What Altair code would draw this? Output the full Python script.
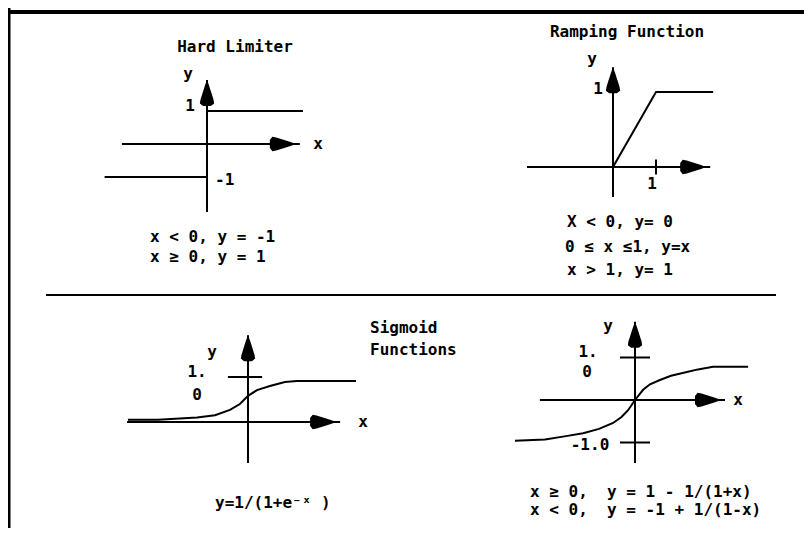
import altair as alt
import pandas as pd

# ---------------- data (function-space values) ----------------
hl_up_x = [0.0, 3.0]
hl_up_y = [1.0, 1.0]
hl_lo_x = [-3.2, 0.0]
hl_lo_y = [-1.0, -1.0]

ramp_x = [0.0, 1.0, 2.33]
ramp_y = [0.0, 1.0, 1.0]

sig_x = [-4.0, -3.0, -1.7, -1.1, -0.6, -0.27, 0.0, 0.3, 0.73, 1.23, 1.63, 3.6]
sig_y = [0.05, 0.05, 0.1, 0.15, 0.27, 0.4, 0.58, 0.71, 0.8, 0.89, 0.91, 0.91]

bip_x = [-4.0, -3.0, -2.3, -1.73, -1.2, -0.73, -0.45, -0.23, 0.0, 0.27, 0.5, 0.83,
         1.2, 1.73, 2.1, 2.6, 3.77]
bip_y = [-0.96, -0.93, -0.85, -0.78, -0.68, -0.54, -0.4, -0.24, 0.0, 0.24, 0.37, 0.47,
         0.57, 0.66, 0.72, 0.78, 0.78]

# ticks on the axes (function units)
ramp_xticks = [1.0]
sig_yticks = [1.0]
bip_yticks = [1.0, -1.0]

# texts
titles = ["Hard Limiter", "Ramping Function"]
sig_title = ["Sigmoid", "Functions"]
hl_eqs = ["x < 0, y = -1", "x \u2265 0, y = 1"]
ramp_eqs = ["X < 0, y= 0", "0 \u2264 x \u22641, y=x", "x > 1, y= 1"]
sig_eq = ["y=1/(1+e\u207b\u02e3 )"]
bip_eqs = ["x \u2265 0,\u00a0 y = 1 - 1/(1+x)", "x < 0,\u00a0 y = -1 + 1/(1-x)"]

# ---------------- layout (canvas = page pixel coordinates) ----------------
X0, X1 = 8, 804
Y0, Y1 = 8, 528
W, H = X1 - X0, Y1 - Y0
FONT = "DejaVu Sans Mono"
FS = 16

P = {
    "hl":   dict(ox=207, oy=144, sx=32, sy=33,   xr=(-2.66, 2.9),  yr=(-2.06, 1.94)),
    "ramp": dict(ox=613, oy=167, sx=43, sy=75,   xr=(-2.0, 2.26),  yr=(-0.4, 1.33)),
    "sig":  dict(ox=248, oy=422, sx=30, sy=45,   xr=(-4.03, 3.07), yr=(-0.91, 1.93)),
    "bip":  dict(ox=635, oy=400, sx=30, sy=42.5, xr=(-3.17, 3.0),  yr=(-1.48, 1.84)),
}


def cx(p, v):
    return P[p]["ox"] + v * P[p]["sx"]


def cy(p, v):
    return P[p]["oy"] - v * P[p]["sy"]


segs = []   # straight rules
curves = []  # polylines
arrows = []

for k, p in P.items():
    segs.append(dict(x=cx(k, p["xr"][0]), x2=cx(k, p["xr"][1]), y=cy(k, 0), y2=cy(k, 0), w=2))
    segs.append(dict(x=cx(k, 0), x2=cx(k, 0), y=cy(k, p["yr"][0]), y2=cy(k, p["yr"][1]), w=2))
    arrows.append(dict(x=cx(k, 0), y=cy(k, p["yr"][1]) + 13, dir="up"))
    arrows.append(dict(x=cx(k, p["xr"][1]) - 17, y=cy(k, 0), dir="right"))

for t in ramp_xticks:
    segs.append(dict(x=cx("ramp", t), x2=cx("ramp", t), y=cy("ramp", 0.1), y2=cy("ramp", -0.1), w=2))
for t in sig_yticks:
    segs.append(dict(x=cx("sig", -0.67), x2=cx("sig", 0.47), y=cy("sig", t), y2=cy("sig", t), w=2))
for t in bip_yticks:
    segs.append(dict(x=cx("bip", -0.5), x2=cx("bip", 0.5), y=cy("bip", t), y2=cy("bip", t), w=2))

# frame and divider
segs.append(dict(x=X0, x2=X1, y=12, y2=12, w=4))
segs.append(dict(x=9, x2=9, y=Y0, y2=Y1, w=3))
segs.append(dict(x=46, x2=776, y=295, y2=295, w=2))


def add_curve(name, p, xs_, ys_):
    for i, (a, b) in enumerate(zip(xs_, ys_)):
        curves.append(dict(g=name, i=i, x=cx(p, a), y=cy(p, b)))


add_curve("hu", "hl", hl_up_x, hl_up_y)
add_curve("hlo", "hl", hl_lo_x, hl_lo_y)
add_curve("ramp", "ramp", ramp_x, ramp_y)
add_curve("sig", "sig", sig_x, sig_y)
add_curve("bip", "bip", bip_x, bip_y)

texts_c = [
    (titles[0], 235, 47), (titles[1], 627, 32),
    ("y", 188, 74), ("y", 592, 59), ("y", 212, 352), ("y", 608, 326),
    ("1", 190, 106), ("1", 598, 89), ("1", 652, 184),
    ("x", 318, 144), ("x", 363, 422), ("x", 738, 400),
    ("1.", 197, 372), ("1.", 588, 352),
    ("0", 197, 395), ("0", 587, 372),
    ("-1.0", 590, 445),
]
texts_l = [
    ("-1", 215, 180),
    (hl_eqs[0], 150, 237), (hl_eqs[1], 150, 257),
    (ramp_eqs[0], 567, 222), (ramp_eqs[1], 565, 247), (ramp_eqs[2], 567, 270),
    (sig_title[0], 370, 328), (sig_title[1], 370, 350),
    (sig_eq[0], 215, 503),
    (bip_eqs[0], 530, 492), (bip_eqs[1], 530, 510),
]

xs = alt.Scale(domain=[X0, X1], range=[0, W])
ys = alt.Scale(domain=[Y0, Y1], range=[0, H])

seg_df = pd.DataFrame(segs)
cur_df = pd.DataFrame(curves)
arr_df = pd.DataFrame(arrows)
tc_df = pd.DataFrame(texts_c, columns=["t", "x", "y"])
tl_df = pd.DataFrame(texts_l, columns=["t", "x", "y"])

rules = alt.Chart(seg_df).mark_rule(color="black").encode(
    x=alt.X("x:Q", scale=xs, axis=None), x2="x2:Q",
    y=alt.Y("y:Q", scale=ys, axis=None), y2="y2:Q",
    strokeWidth=alt.StrokeWidth("w:Q", scale=None),
)

lines = alt.Chart(cur_df).mark_line(color="black", strokeWidth=2).encode(
    x=alt.X("x:Q", scale=xs, axis=None),
    y=alt.Y("y:Q", scale=ys, axis=None),
    detail="g:N", order="i:Q",
)

UP = "M0,-1 L0.15,-0.6 L0.5,0.5 L0.55,0.8 L0.3,1 L-0.3,1 L-0.55,0.8 L-0.5,0.5 L-0.15,-0.6 Z"
RIGHT = "M1,0 L0.6,0.15 L-0.5,0.5 L-0.8,0.55 L-1,0.3 L-1,-0.3 L-0.8,-0.55 L-0.5,-0.5 L0.6,-0.15 Z"

arr_up = alt.Chart(arr_df[arr_df.dir == "up"]).mark_point(
    shape=UP, filled=True, color="black", opacity=1, size=676).encode(
    x=alt.X("x:Q", scale=xs, axis=None), y=alt.Y("y:Q", scale=ys, axis=None))
arr_rt = alt.Chart(arr_df[arr_df.dir == "right"]).mark_point(
    shape=RIGHT, filled=True, color="black", opacity=1, size=676).encode(
    x=alt.X("x:Q", scale=xs, axis=None), y=alt.Y("y:Q", scale=ys, axis=None))

txt_c = alt.Chart(tc_df).mark_text(
    font=FONT, fontSize=FS, fontWeight="bold", color="black", align="center", baseline="middle").encode(
    x=alt.X("x:Q", scale=xs, axis=None), y=alt.Y("y:Q", scale=ys, axis=None), text="t:N")
txt_l = alt.Chart(tl_df).mark_text(
    font=FONT, fontSize=FS, fontWeight="bold", color="black", align="left", baseline="middle").encode(
    x=alt.X("x:Q", scale=xs, axis=None), y=alt.Y("y:Q", scale=ys, axis=None), text="t:N")

chart = alt.layer(rules, lines, arr_up, arr_rt, txt_c, txt_l).properties(
    width=W, height=H, padding=0, autosize=alt.AutoSizeParams(type="none"),
    background="white",
).configure_view(stroke=None)

chart.save("out.html", embed_options={"renderer": "svg", "actions": False})
